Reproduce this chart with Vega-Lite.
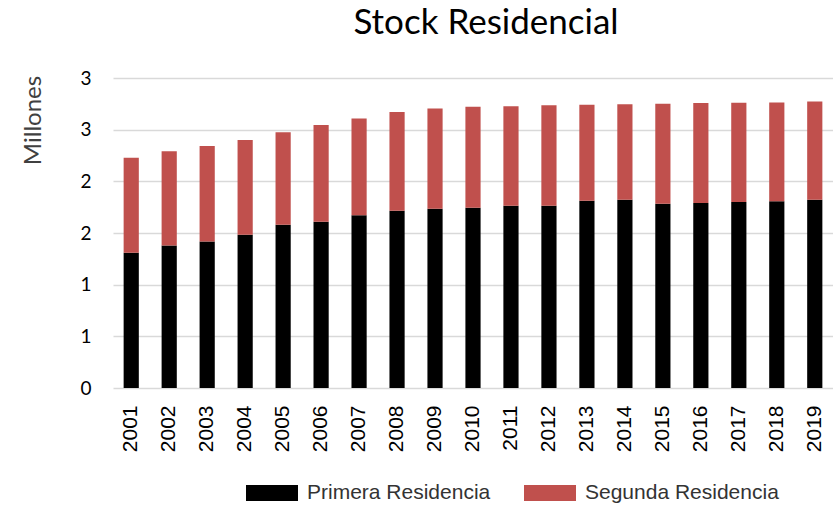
{
  "$schema": "https://vega.github.io/schema/vega-lite/v6.json",
  "width": 720,
  "height": 310,
  "autosize": "none",
  "padding": {"left": 113, "top": 78, "right": 0, "bottom": 120},
  "background": "white",
  "title": {
    "text": "Stock Residencial",
    "font": "Lato",
    "fontSize": 35,
    "fontWeight": "normal",
    "color": "#000000",
    "frame": "group",
    "baseline": "alphabetic",
    "offset": 0,
    "dx": 13
  },
  "data": {
    "values": [
      {"year": "2001", "tipo": "Primera Residencia", "orden": 1, "valor": 1.310},
      {"year": "2001", "tipo": "Segunda Residencia", "orden": 2, "valor": 0.918},
      {"year": "2002", "tipo": "Primera Residencia", "orden": 1, "valor": 1.378},
      {"year": "2002", "tipo": "Segunda Residencia", "orden": 2, "valor": 0.912},
      {"year": "2003", "tipo": "Primera Residencia", "orden": 1, "valor": 1.417},
      {"year": "2003", "tipo": "Segunda Residencia", "orden": 2, "valor": 0.924},
      {"year": "2004", "tipo": "Primera Residencia", "orden": 1, "valor": 1.484},
      {"year": "2004", "tipo": "Segunda Residencia", "orden": 2, "valor": 0.915},
      {"year": "2005", "tipo": "Primera Residencia", "orden": 1, "valor": 1.581},
      {"year": "2005", "tipo": "Segunda Residencia", "orden": 2, "valor": 0.895},
      {"year": "2006", "tipo": "Primera Residencia", "orden": 1, "valor": 1.610},
      {"year": "2006", "tipo": "Segunda Residencia", "orden": 2, "valor": 0.934},
      {"year": "2007", "tipo": "Primera Residencia", "orden": 1, "valor": 1.671},
      {"year": "2007", "tipo": "Segunda Residencia", "orden": 2, "valor": 0.938},
      {"year": "2008", "tipo": "Primera Residencia", "orden": 1, "valor": 1.716},
      {"year": "2008", "tipo": "Segunda Residencia", "orden": 2, "valor": 0.954},
      {"year": "2009", "tipo": "Primera Residencia", "orden": 1, "valor": 1.735},
      {"year": "2009", "tipo": "Segunda Residencia", "orden": 2, "valor": 0.970},
      {"year": "2010", "tipo": "Primera Residencia", "orden": 1, "valor": 1.745},
      {"year": "2010", "tipo": "Segunda Residencia", "orden": 2, "valor": 0.976},
      {"year": "2011", "tipo": "Primera Residencia", "orden": 1, "valor": 1.764},
      {"year": "2011", "tipo": "Segunda Residencia", "orden": 2, "valor": 0.963},
      {"year": "2012", "tipo": "Primera Residencia", "orden": 1, "valor": 1.764},
      {"year": "2012", "tipo": "Segunda Residencia", "orden": 2, "valor": 0.973},
      {"year": "2013", "tipo": "Primera Residencia", "orden": 1, "valor": 1.813},
      {"year": "2013", "tipo": "Segunda Residencia", "orden": 2, "valor": 0.927},
      {"year": "2014", "tipo": "Primera Residencia", "orden": 1, "valor": 1.822},
      {"year": "2014", "tipo": "Segunda Residencia", "orden": 2, "valor": 0.925},
      {"year": "2015", "tipo": "Primera Residencia", "orden": 1, "valor": 1.784},
      {"year": "2015", "tipo": "Segunda Residencia", "orden": 2, "valor": 0.966},
      {"year": "2016", "tipo": "Primera Residencia", "orden": 1, "valor": 1.790},
      {"year": "2016", "tipo": "Segunda Residencia", "orden": 2, "valor": 0.967},
      {"year": "2017", "tipo": "Primera Residencia", "orden": 1, "valor": 1.800},
      {"year": "2017", "tipo": "Segunda Residencia", "orden": 2, "valor": 0.960},
      {"year": "2018", "tipo": "Primera Residencia", "orden": 1, "valor": 1.807},
      {"year": "2018", "tipo": "Segunda Residencia", "orden": 2, "valor": 0.956},
      {"year": "2019", "tipo": "Primera Residencia", "orden": 1, "valor": 1.822},
      {"year": "2019", "tipo": "Segunda Residencia", "orden": 2, "valor": 0.951}
    ]
  },
  "mark": {"type": "bar"},
  "encoding": {
    "x": {
      "field": "year",
      "type": "ordinal",
      "scale": {"paddingInner": 0.6, "paddingOuter": 0.28},
      "axis": {
        "title": null,
        "labelAngle": -90,
        "labelFont": "Liberation Sans",
        "labelFontSize": 21,
        "labelColor": "#000000",
        "labelPadding": 17,
        "ticks": false,
        "domain": false
      }
    },
    "y": {
      "field": "valor",
      "type": "quantitative",
      "stack": "zero",
      "scale": {"domain": [0, 3], "nice": false},
      "axis": {
        "title": "Millones",
        "titleFont": "Lato",
        "titleFontSize": 24,
        "titleFontWeight": "normal",
        "titleColor": "#404040",
        "titleAngle": 270,
        "titleX": -80,
        "titleY": 42,
        "titleAlign": "center",
        "titleBaseline": "middle",
        "values": [0, 0.5, 1, 1.5, 2, 2.5, 3],
        "labelExpr": "round(datum.value)",
        "labelFont": "Lato",
        "labelFontSize": 19,
        "labelColor": "#000000",
        "labelPadding": 22,
        "ticks": false,
        "domain": false,
        "grid": true,
        "gridColor": "#d9d9d9",
        "gridWidth": 1.5
      }
    },
    "color": {
      "field": "tipo",
      "type": "nominal",
      "scale": {
        "domain": ["Primera Residencia", "Segunda Residencia"],
        "range": ["#000000", "#c0504d"]
      },
      "legend": {
        "title": null,
        "orient": "none",
        "direction": "horizontal",
        "legendX": 133,
        "legendY": 389,
        "symbolType": "M-1,-0.31H1V0.31H-1Z",
        "symbolSize": 2704,
        "symbolStrokeWidth": 0,
        "labelFont": "Liberation Sans",
        "labelFontSize": 21,
        "labelLimit": 400,
        "labelColor": "#333333",
        "labelOffset": 9,
        "columnPadding": 33,
        "encode": {
          "symbols": {
            "update": {
              "fill": {"signal": "datum.value == 'Primera Residencia' ? '#2e2116' : '#c0504d'"}
            }
          }
        }
      }
    },
    "order": {"field": "orden", "type": "quantitative"}
  },
  "config": {
    "view": {"stroke": null}
  }
}
